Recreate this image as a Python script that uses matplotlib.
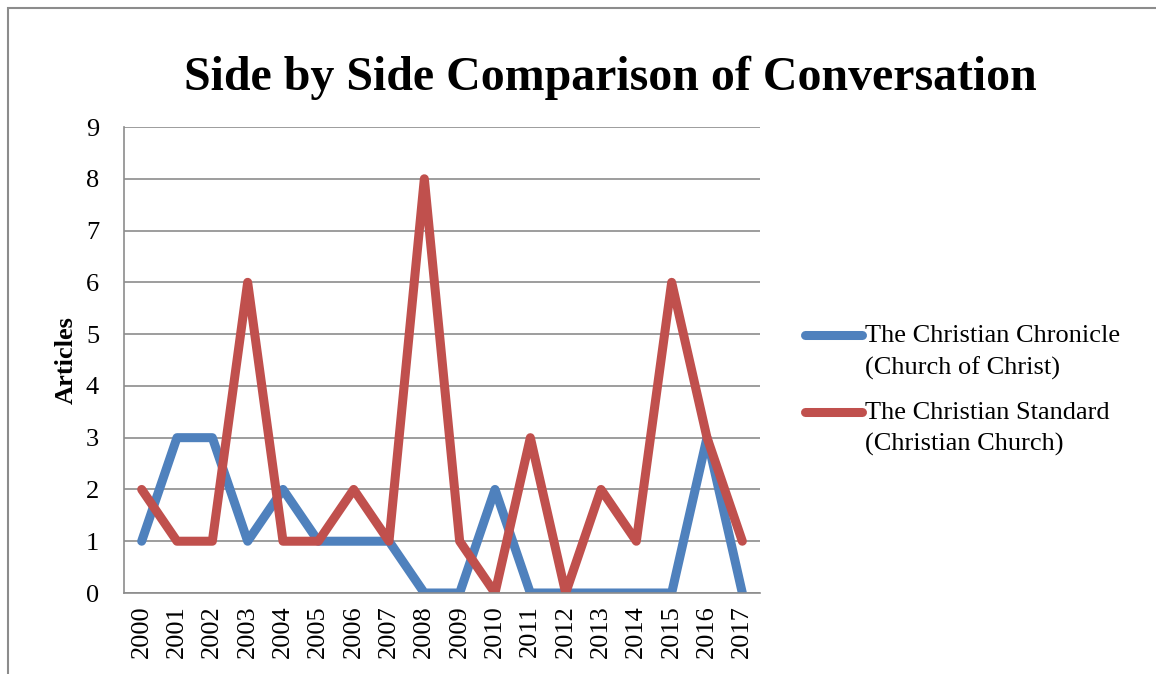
import matplotlib
matplotlib.use("Agg")
import matplotlib.pyplot as plt
from matplotlib.patches import Rectangle

years = [str(y) for y in range(2000, 2018)]
chronicle = [1, 3, 3, 1, 2, 1, 1, 1, 0, 0, 2, 0, 0, 0, 0, 0, 3, 0]
standard = [2, 1, 1, 6, 1, 1, 2, 1, 8, 1, 0, 3, 0, 2, 1, 6, 3, 1]
labels = ["The Christian Chronicle\n(Church of Christ)",
          "The Christian Standard\n(Christian Church)"]

plt.rcParams["font.family"] = ["Liberation Serif", "DejaVu Serif"]

W, H = 1156, 674
fig = plt.figure(figsize=(W / 100, H / 100), dpi=100)

# outer chart frame (cut off at right and bottom)
fig.patches.append(Rectangle((8 / W, -0.1), 1.2, 1 - 8 / H + 0.1,
                             transform=fig.transFigure, fill=False,
                             edgecolor="#8c8c8c", linewidth=1.5))

ax = fig.add_axes([124 / W, 1 - 593 / H, (760 - 124) / W, (593 - 127) / H])
x = list(range(len(years)))
ax.plot(x, chronicle, color="#4F81BD", linewidth=6.5, label=labels[0],
        solid_capstyle="round", solid_joinstyle="round")
ax.plot(x, standard, color="#C0504D", linewidth=6.5, label=labels[1],
        solid_capstyle="round", solid_joinstyle="round")

ax.set_xlim(-0.5, len(years) - 0.5)
ax.set_ylim(0, 9)
ax.set_yticks(range(10))
ax.set_xticks(x)
ax.set_xticklabels(years, rotation=90, fontsize=19)
ax.tick_params(axis="y", labelsize=19, length=0, pad=18)
ax.tick_params(axis="x", length=0, pad=9)
ax.grid(axis="y", color="#8c8c8c", linewidth=1.2)
ax.set_axisbelow(True)
for s in ["top", "right"]:
    ax.spines[s].set_visible(False)
for s in ["left", "bottom"]:
    ax.spines[s].set_color("#8c8c8c")
    ax.spines[s].set_linewidth(1.2)

ax.set_ylabel("Articles", fontsize=19, fontweight="bold", labelpad=6)

fig.text(610 / W, 1 - 78 / H, "Side by Side Comparison of Conversation",
         ha="center", va="center", fontsize=34.5, fontweight="bold")

leg = ax.legend(loc="center left", bbox_to_anchor=(1.071, 0.434), frameon=False,
                fontsize=19, handlelength=2.16, handletextpad=0.1,
                labelspacing=0.87, borderaxespad=0, borderpad=0)
for t in leg.get_texts():
    t.set_linespacing(1.48)
# put the line swatch next to the first line of each label
for col in leg._legend_handle_box.get_children():
    for item in col.get_children():
        item.align = "top"

fig.savefig("out.png", dpi=100)
